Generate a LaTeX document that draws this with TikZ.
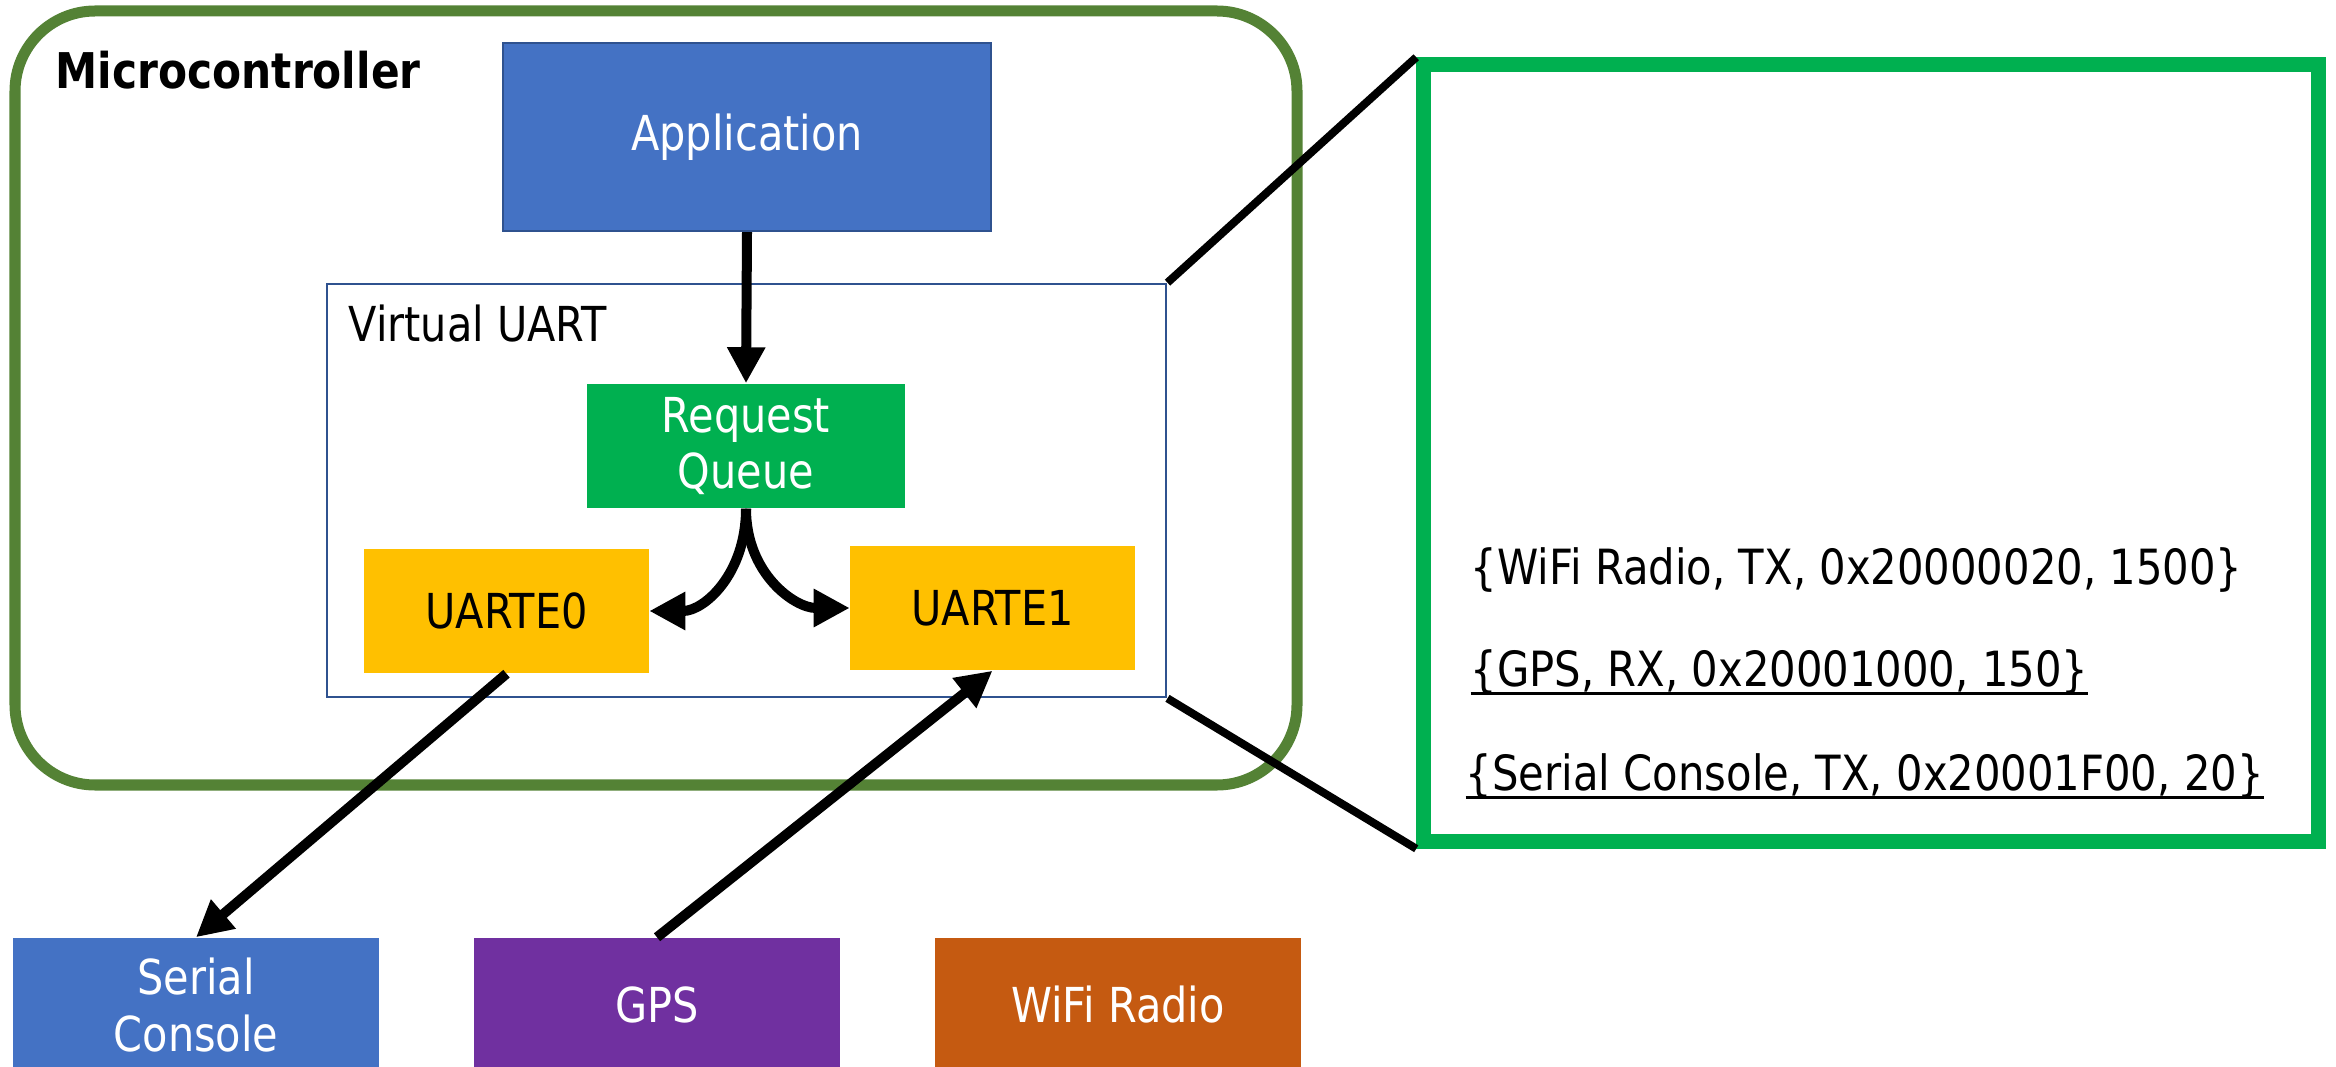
\documentclass[tikz,border=0pt]{standalone}
\usepackage{fontspec}
\setmainfont{DejaVu Sans}[FakeStretch=0.86]
\usepackage{tikz}
\usetikzlibrary{arrows.meta}
\newcommand{\requl}[1]{\setbox0\hbox{#1}\rlap{\rule[-2.6pt]{\wd0}{0.9pt}}\box0}
\definecolor{mcugreen}{HTML}{548235}
\definecolor{appblue}{HTML}{4472C4}
\definecolor{edgeblue}{HTML}{2F528F}
\definecolor{qgreen}{HTML}{00B050}
\definecolor{uartyellow}{HTML}{FFC000}
\definecolor{gpspurple}{HTML}{7030A0}
\definecolor{wifiorange}{HTML}{C55A11}
\tikzset{>={Triangle[length=0.36cm,width=0.36cm]}}
\tikzset{
  txt/.style={inner sep=0pt, align=center, font=\fontsize{13.7}{16}\selectfont},
  reqtxt/.style={txt, anchor=base west, font=\fontsize{13.8}{16}\selectfont},
  blk/.style={txt, minimum height=1.24cm, text=white},
  dev/.style={blk, minimum width=3.66cm, minimum height=1.34cm},
  uarte/.style={blk, fill=uartyellow, text=black, minimum width=2.84cm},
  flow/.style={->, line width=1mm},
  link/.style={line width=0.8mm},
}

\begin{document}
\begin{tikzpicture}[x=0.01cm,y=-0.01cm]
    \useasboundingbox (0,0) rectangle (2336,1067);
    \draw[mcugreen, line width=1.1mm, rounded corners=8mm] (15,11) rectangle (1297,785);
    \node[txt, anchor=base west, font=\fontsize{14}{16}\selectfont\bfseries] (mcutitle) at (55,89) {Microcontroller};

    \node[blk, fill=appblue, draw=edgeblue, line width=0.6pt, minimum width=4.88cm, minimum height=1.88cm] (app) at (747,137) {Application};
    \node[draw=edgeblue, line width=0.7pt, minimum width=8.39cm, minimum height=4.13cm, inner sep=0pt] (vuart) at (746.5,490.5) {};
    \node[txt, anchor=base west] (vuartlabel) at (348,342) {Virtual UART};
    \node[blk, fill=qgreen, minimum width=3.18cm] (rq) at (746,446) {Request\\Queue};
    \node[uarte] (uarte0) at (506.5,611) {UARTE0};
    \node[uarte] (uarte1) at (992.5,608) {UARTE1};

    % devices, cut off by the bottom edge
    \node[dev, fill=appblue] (serial) at (196,1005) {Serial\\Console};
    \node[dev, fill=gpspurple] (gps) at (657,1005) {GPS};
    \node[dev, fill=wifiorange] (wifi) at (1118,1005) {WiFi Radio};

    \draw[flow] (app.south) -- (rq.north);
    \draw[flow] (rq.south) .. controls +(0,65) and +(55,0) .. (uarte0.east);
    \draw[flow] (rq.south) .. controls +(0,65) and +(-55,0) .. (uarte1.west);
    \draw[flow] (uarte0.south) -- (serial.north);
    \draw[flow] (gps.north) -- (uarte1.south);

    % zoomed view of the request queue
    \node[draw=qgreen, line width=1.5mm, minimum width=8.94cm, minimum height=7.76cm, inner sep=0pt] (zoom) at (1871,453) {};
    \draw[link] (vuart.north east) -- (zoom.north west);
    \draw[link] (vuart.south east) -- (zoom.south west);
    \node[reqtxt] (wifireq) at (1470,584) {\{WiFi Radio, TX, 0x20000020, 1500\}};
    \node[reqtxt] (gpsreq) at (1470,686) {\requl{\{GPS, RX, 0x20001000, 150\}}};
    \node[reqtxt] (serialreq) at (1465,790) {\requl{\{Serial Console, TX, 0x20001F00, 20\}}};
\end{tikzpicture}
\end{document}
